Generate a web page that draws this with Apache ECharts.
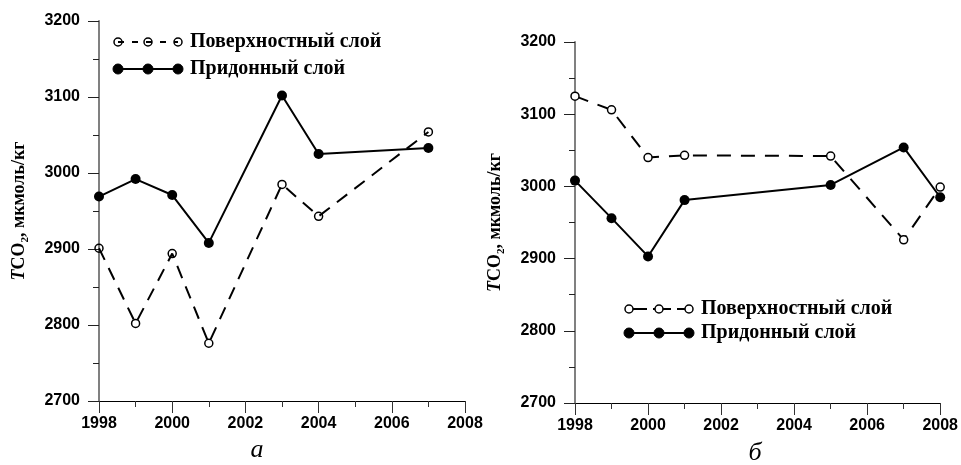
<!DOCTYPE html>
<html>
<head>
<meta charset="utf-8">
<script src="https://cdn.jsdelivr.net/npm/echarts@6/dist/echarts.min.js"></script>
<style>
html,body{margin:0;padding:0;background:#fff;}
#chart{width:961px;height:465px;}
</style>
</head>
<body>
<div id="chart"></div>
<script>
// ---- data ----
const yearsA = [1998, 1999, 2000, 2001, 2003, 2004, 2007];
const surfaceA = [2901, 2802, 2894, 2776, 2985, 2943, 3054];
const bottomA = [2969, 2992, 2971, 2908, 3102, 3025, 3033];

const yearsB = [1998, 1999, 2000, 2001, 2005, 2007, 2008];
const surfaceB = [3125, 3106, 3040, 3043, 3042, 2926, 2999];
const bottomB = [3008, 2956, 2903, 2981, 3002, 3054, 2985];

const legendNames = ['Поверхностный слой', 'Придонный слой'];
const panelLabels = ['а', 'б'];
const yTitle = '{t|T}{n|CO}{s|2}{n|, мкмоль/кг}';

function pairs(xs, ys) { return xs.map((x, i) => [x, ys[i]]); }

const SANS = 'Liberation Sans, Arial, sans-serif';
const SERIF = 'Liberation Serif, Times New Roman, serif';

function xAxisCfg(idx) {
  return {
    gridIndex: idx, type: 'value', min: 1998, max: 2008, interval: 2,
    axisLine: { show: true, onZero: false, lineStyle: { color: '#000', width: 1 } },
    axisTick: { show: true, length: 12, lineStyle: { color: '#333', width: 1 } },
    minorTick: { show: true, splitNumber: 2, length: 6, lineStyle: { color: '#333', width: 1 } },
    splitLine: { show: false },
    axisLabel: { color: '#000', fontFamily: SANS, fontWeight: 'bold', fontSize: 16, margin: 15,
      formatter: v => String(v) }
  };
}
function yAxisCfg(idx) {
  return {
    gridIndex: idx, type: 'value', min: 2700, max: 3200, interval: 100,
    name: yTitle, nameLocation: 'middle', nameGap: 68, nameRotate: 90,
    nameTextStyle: {
      rich: {
        t: { fontFamily: SERIF, fontWeight: 'bold', fontStyle: 'italic', fontSize: 18, color: '#000', lineHeight: 24 },
        n: { fontFamily: SERIF, fontWeight: 'bold', fontSize: 18, color: '#000', lineHeight: 24 },
        s: { fontFamily: SERIF, fontWeight: 'bold', fontSize: 11, color: '#000', lineHeight: 11, verticalAlign: 'bottom' }
      }
    },
    axisLine: { show: true, onZero: false, lineStyle: { color: '#808080', width: 2 } },
    axisTick: { show: true, length: 11, lineStyle: { color: '#222', width: 1 } },
    minorTick: { show: true, splitNumber: 2, length: 6, lineStyle: { color: '#222', width: 1 } },
    splitLine: { show: false },
    axisLabel: { color: '#000', fontFamily: SANS, fontWeight: 'bold', fontSize: 16, margin: 19,
      formatter: v => String(v) }
  };
}

function legendGroup(x0, y1, y2, dash, openFill) {
  const xs = [x0, x0 + 30, x0 + 60];
  const children = [];
  children.push({ type: 'line', shape: { x1: xs[0], y1: y1, x2: xs[2], y2: y1 },
    style: { stroke: '#000', lineWidth: 2, lineDash: dash } });
  xs.forEach(x => children.push({ type: 'circle', shape: { cx: x, cy: y1, r: 4 },
    style: { fill: openFill, stroke: '#000', lineWidth: 1.5 } }));
  children.push({ type: 'line', shape: { x1: xs[0], y1: y2, x2: xs[2], y2: y2 },
    style: { stroke: '#000', lineWidth: 2 } });
  xs.forEach(x => children.push({ type: 'circle', shape: { cx: x, cy: y2, r: 5 },
    style: { fill: '#000', stroke: '#000', lineWidth: 1 } }));
  children.push({ type: 'text', x: x0 + 72, y: y1, style: { text: legendNames[0], fill: '#000',
    font: 'bold 20px ' + SERIF, verticalAlign: 'middle', align: 'left' } });
  children.push({ type: 'text', x: x0 + 72, y: y2, style: { text: legendNames[1], fill: '#000',
    font: 'bold 20px ' + SERIF, verticalAlign: 'middle', align: 'left' } });
  return { type: 'group', children: children };
}

const chart = echarts.init(document.getElementById('chart'), null, { renderer: 'canvas' });
chart.setOption({
  animation: false,
  backgroundColor: '#fff',
  grid: [
    { left: 99, top: 21, width: 366, height: 380 },
    { left: 575, top: 42, width: 366, height: 361 }
  ],
  xAxis: [xAxisCfg(0), xAxisCfg(1)],
  yAxis: [yAxisCfg(0), yAxisCfg(1)],
  series: [
    { name: legendNames[0], type: 'line', xAxisIndex: 0, yAxisIndex: 0, data: pairs(yearsA, surfaceA),
      symbol: 'circle', symbolSize: 8, z: 3,
      lineStyle: { color: '#000', width: 2, type: [13, 9] },
      itemStyle: { color: 'rgba(255,255,255,0)', borderColor: '#000', borderWidth: 1.5 } },
    { name: legendNames[1], type: 'line', xAxisIndex: 0, yAxisIndex: 0, data: pairs(yearsA, bottomA),
      symbol: 'circle', symbolSize: 10, z: 4,
      lineStyle: { color: '#000', width: 2 },
      itemStyle: { color: '#000', borderColor: '#000', borderWidth: 0 } },
    { name: legendNames[0], type: 'line', xAxisIndex: 1, yAxisIndex: 1, data: pairs(yearsB, surfaceB),
      symbol: 'circle', symbolSize: 8, z: 3,
      lineStyle: { color: '#000', width: 2, type: [14, 10] },
      itemStyle: { color: '#fff', borderColor: '#000', borderWidth: 1.5 } },
    { name: legendNames[1], type: 'line', xAxisIndex: 1, yAxisIndex: 1, data: pairs(yearsB, bottomB),
      symbol: 'circle', symbolSize: 10, z: 4,
      lineStyle: { color: '#000', width: 2 },
      itemStyle: { color: '#000', borderColor: '#000', borderWidth: 0 } }
  ],
  graphic: [
    legendGroup(118, 42, 69, [6, 8], 'rgba(255,255,255,0)'),
    legendGroup(629, 309, 333, [18, 6], '#fff'),
    { type: 'text', x: 257, y: 463, style: { text: panelLabels[0], fill: '#000',
      font: 'italic 26px ' + SERIF, align: 'center', verticalAlign: 'bottom' } },
    { type: 'text', x: 755, y: 466, style: { text: panelLabels[1], fill: '#000',
      font: 'italic 26px ' + SERIF, align: 'center', verticalAlign: 'bottom' } }
  ]
});
</script>
</body>
</html>
